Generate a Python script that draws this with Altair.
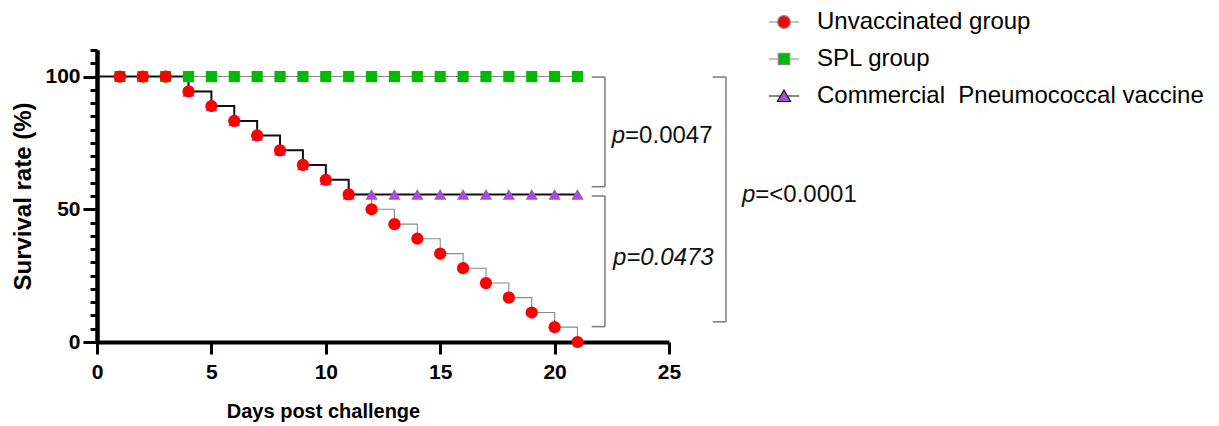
import altair as alt
import pandas as pd

# ---------------- data ----------------
groups = ["Unvaccinated group", "SPL group", "Commercial\u00a0 Pneumococcal vaccine"]
days = [0, 1, 2, 3, 4, 5, 6, 7, 8, 9, 10, 11, 12, 13, 14, 15, 16, 17, 18, 19, 20, 21]
unvaccinated = [100, 100, 100, 100, 94.4, 88.9, 83.3, 77.8, 72.2, 66.7, 61.1, 55.6,
                50.0, 44.4, 38.9, 33.3, 27.8, 22.2, 16.7, 11.1, 5.6, 0.0]
spl = [100, 100, 100, 100, 100, 100, 100, 100, 100, 100, 100, 100,
       100, 100, 100, 100, 100, 100, 100, 100, 100, 100]
commercial = [100, 100, 100, 100, 94.4, 88.9, 83.3, 77.8, 72.2, 66.7, 61.1, 55.6,
              55.6, 55.6, 55.6, 55.6, 55.6, 55.6, 55.6, 55.6, 55.6, 55.6]

# significance brackets: (inner x, outer x, top y, bottom y)
brackets = [
    (21.62, 22.20, 99.8, 58.5),
    (21.62, 22.20, 55.0, 5.8),
    (26.91, 27.49, 99.8, 7.6),
]
# p-value labels: (x, baseline y, italic part, upright part)
p_labels = [
    (22.50, 74.85, "p", "=0.0047"),
    (22.55, 29.0, "p=0.0473", ""),
    (28.19, 52.85, "p", "=<0.0001"),
]

colors = {groups[0]: "#FF0000", groups[1]: "#00BB00", groups[2]: "#A64DDB"}

# ---------------- tables ----------------
rows = []
for g, vals in zip(groups, [unvaccinated, spl, commercial]):
    for d, v in zip(days, vals):
        rows.append({"group": g, "day": d, "surv": v})
df = pd.DataFrame(rows)

seg_rows = []
for xi, xo, yt, yb in brackets:
    seg_rows.append({"x": xi, "x2": xo, "y": yt, "y2": yt})
    seg_rows.append({"x": xo, "x2": xo, "y": yt, "y2": yb})
    seg_rows.append({"x": xi, "x2": xo, "y": yb, "y2": yb})
seg_df = pd.DataFrame(seg_rows)

lab_df = pd.DataFrame([{"x": x, "y": y, "it": a, "up": b} for x, y, a, b in p_labels])

FONT = "Liberation Sans"

x_scale = alt.Scale(domain=[0, 25], nice=False, zero=False)
y_scale = alt.Scale(domain=[0, 110], nice=False, zero=False)

x_axis = alt.Axis(values=[0, 5, 10, 15, 20, 25], title="Days post challenge",
                  titleFont=FONT, titleFontSize=20, titleFontWeight="bold", titleColor="black",
                  titleX=226, titleY=75, titleBaseline="alphabetic", titleAlign="center",
                  labelFont=FONT, labelFontSize=21, labelFontWeight="bold", labelColor="black",
                  labelPadding=7, labelFlush=False,
                  tickSize=12, tickWidth=3, tickColor="black",
                  domainWidth=4, domainColor="black", grid=False)

y_major = alt.Axis(values=[0, 50, 100], orient="left", title="Survival rate (%)",
                   titleFont=FONT, titleFontSize=24, titleFontWeight="bold", titleColor="black",
                   titleX=-74, titleY=146, titleAngle=-90, titleBaseline="middle", titleAlign="center",
                   labelFont=FONT, labelFontSize=21, labelFontWeight="bold", labelColor="black",
                   labelPadding=3, labelFlush=False,
                   tickSize=14, tickWidth=3, tickColor="black",
                   domainWidth=4, domainColor="black", grid=False)

y_minor = alt.Axis(values=list(range(0, 111, 5)), orient="left", title=None, labels=False,
                   tickSize=7, tickWidth=3, tickColor="black",
                   domainWidth=4, domainColor="black", grid=False)

base = alt.Chart(df)
X = alt.X("day:Q", scale=x_scale, axis=x_axis)


def Y(axis=None):
    return alt.Y("surv:Q", scale=y_scale, axis=axis)


line_unv = base.transform_filter(alt.datum.group == groups[0]).mark_line(
    interpolate="step-after", color="#8a8a8a", strokeWidth=1.1).encode(x=X, y=Y(y_major))
line_spl = base.transform_filter(alt.datum.group == groups[1]).mark_line(
    interpolate="step-after", color="#8a8a8a", strokeWidth=1.1).encode(x=X, y=Y(y_minor))
line_com = base.transform_filter(alt.datum.group == groups[2]).mark_line(
    interpolate="step-after", color="#111111", strokeWidth=2).encode(x=X, y=Y())

pts = base.transform_filter(alt.datum.day > 0)
pt_com = pts.transform_filter(alt.datum.group == groups[2]).mark_point(
    shape="triangle-up", filled=True, size=150, opacity=1, color=colors[groups[2]]).encode(x=X, y=Y())
pt_spl = pts.transform_filter(alt.datum.group == groups[1]).mark_point(
    shape="square", filled=True, size=125, opacity=1, color=colors[groups[1]]).encode(x=X, y=Y())
pt_unv = pts.transform_filter(alt.datum.group == groups[0]).mark_point(
    shape="circle", filled=True, size=150, opacity=1, color=colors[groups[0]]).encode(x=X, y=Y())

rules = alt.Chart(seg_df).mark_rule(color="#7a7a7a", strokeWidth=1.5).encode(
    x=alt.X("x:Q", scale=x_scale, axis=x_axis), x2="x2:Q",
    y=alt.Y("y:Q", scale=y_scale, axis=None), y2="y2:Q")

txt_it = alt.Chart(lab_df).mark_text(
    font=FONT, fontSize=24, fontStyle="italic", align="left", baseline="alphabetic",
    color="#111111").encode(
    x=alt.X("x:Q", scale=x_scale, axis=x_axis), y=alt.Y("y:Q", scale=y_scale, axis=None),
    text="it:N")
txt_up = alt.Chart(lab_df).transform_filter(alt.datum.up != "").mark_text(
    font=FONT, fontSize=24, align="left", baseline="alphabetic", dx=13.3,
    color="#111111").encode(
    x=alt.X("x:Q", scale=x_scale, axis=x_axis), y=alt.Y("y:Q", scale=y_scale, axis=None),
    text="up:N")

# legend: line-through-marker symbols as custom paths
S = 484
paths = [
    "M-1.38,0H-0.58M0.58,0H1.38M-0.58,0A0.58,0.58,0,1,1,0.58,0A0.58,0.58,0,1,1,-0.58,0Z",
    "M-1.38,0H-0.52M0.52,0H1.38M-0.52,-0.52H0.52V0.52H-0.52Z",
    "M-1.38,0H-0.32M0.32,0H1.38M0,-0.55L0.6,0.5L-0.6,0.5Z",
]
leg = alt.Legend(title=None, orient="none", legendX=675, legendY=-40,
                 labelFont=FONT, labelFontSize=24, labelColor="black", labelLimit=600,
                 symbolSize=S, symbolStrokeWidth=1.2, labelOffset=21, rowPadding=13,
                 padding=0)
legend_layer = base.transform_filter("false").mark_point(filled=True, size=S, opacity=1,
                                                           strokeWidth=1.2).encode(
    shape=alt.Shape("group:N", scale=alt.Scale(domain=groups, range=paths), legend=leg),
    fill=alt.Fill("group:N", scale=alt.Scale(domain=groups, range=[colors[g] for g in groups]), legend=leg),
    stroke=alt.Stroke("group:N", scale=alt.Scale(domain=groups, range=["#8a8a8a", "#8a8a8a", "#111111"]), legend=leg),
)

chart = alt.layer(
    line_spl, line_unv, line_com, pt_com, pt_spl, pt_unv, rules, txt_it, txt_up, legend_layer
).resolve_axis(y="independent").properties(
    width=572, height=292,
    padding={"left": 89, "top": 42, "right": 540, "bottom": 84},
    autosize=alt.AutoSizeParams(type="none"),
    background="white",
).configure_view(stroke=None)

chart.save("out.html", embed_options={"renderer": "svg", "actions": False})
